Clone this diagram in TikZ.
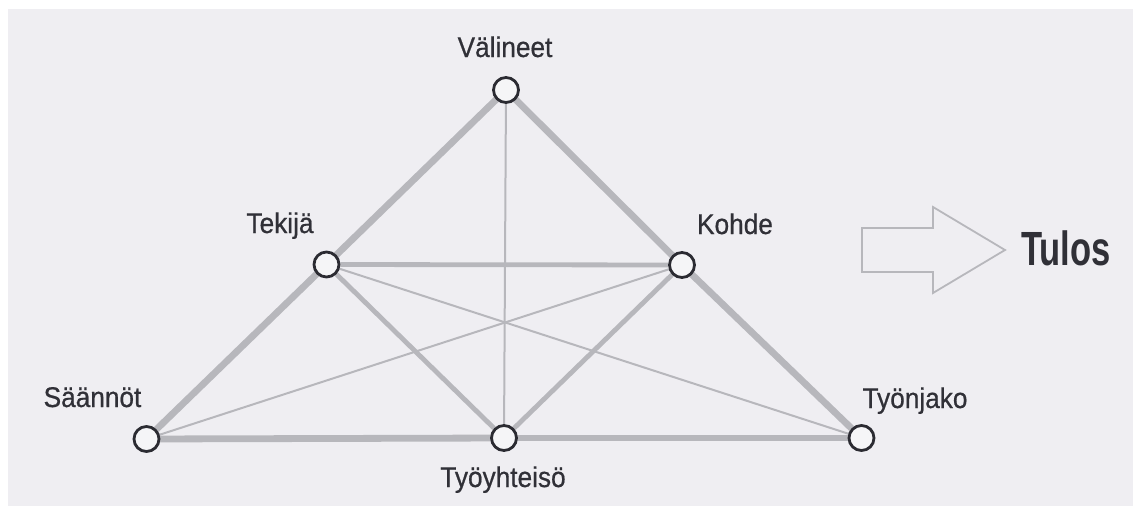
\documentclass[tikz,border=0pt]{standalone}
\usepackage{fontspec}
\usetikzlibrary{backgrounds}
\setmainfont{Liberation Sans}
\newfontfamily\labelfont{Liberation Sans}[FakeStretch=0.92,FakeBold=0.6]
\newfontfamily\tulosfont{Liberation Sans}[FakeStretch=0.72]
\definecolor{paper}{HTML}{EFEEF2}
\definecolor{edge}{HTML}{B7B7BC}
\definecolor{ink}{HTML}{303037}
\definecolor{ring}{HTML}{2B2B32}
\begin{document}
\begin{tikzpicture}[x=1pt,y=-1pt,
  vertex/.style={circle,draw=ring,line width=2.8pt,fill=paper!60!white,
    minimum size=25pt,inner sep=0pt},
  lbl/.style={anchor=base,text=ink,inner sep=0pt,
    font=\labelfont\fontsize{28.5}{28.5}\selectfont},
  outer/.style={draw=edge,line width=6.8pt},
  inner/.style={draw=edge,line width=4.8pt},
  thin/.style={draw=edge,line width=2pt},
  result/.style={draw=edge,line width=1.8pt,line join=miter}]
  \useasboundingbox (0,0) rectangle (1133,509);

  % vertices
  \node[vertex] (val) at (506,90) {};
  \node[vertex] (tek) at (326.5,264.5) {};
  \node[vertex] (koh) at (682,265) {};
  \node[vertex] (saa) at (146.5,439) {};
  \node[vertex] (tyo) at (504,438) {};
  \node[vertex] (tnj) at (861.5,438) {};

  % paper and connectors, kept behind the vertices
  \begin{scope}[on background layer]
    \fill[white] (0,0) rectangle (1133,509);
    \fill[paper] (8,9) rectangle (1133,506);
    \path[thin] (val) -- (tyo);
    \path[thin] (saa) -- (koh);
    \path[thin] (tek) -- (tnj);
    \path[inner] (tek) -- (koh);
    \path[inner] (tek) -- (tyo);
    \path[inner] (koh) -- (tyo);
    \path[outer] (val.center) -- (tek.center);
    \path[outer] (tek.center) -- (saa.center);
    \path[outer] (val.center) -- (koh.center);
    \path[outer] (koh.center) -- (tnj.center);
    \path[outer] (saa.center) -- (tyo.center);
    \path[outer] (tyo.center) -- (tnj.center);
  \end{scope}

  % labels
  \node[lbl] (lval) at (505,57) {Välineet};
  \node[lbl] (ltek) at (280,233) {Tekijä};
  \node[lbl] (lkoh) at (735,234) {Kohde};
  \node[lbl] (lsaa) at (92.5,407) {Säännöt};
  \node[lbl] (ltyo) at (503,487) {Työyhteisö};
  \node[lbl] (ltnj) at (915,408) {Työnjako};

  % outline arrow towards the outcome
  \draw[result] (862,228) -- (933,228) -- (933,207) -- (1005,250)
    -- (933,293) -- (933,272) -- (862,272) -- cycle;
  \node[anchor=base,text=ink,inner sep=0pt,
    font=\tulosfont\bfseries\fontsize{48}{48}\selectfont] (tulos) at (1066,265) {Tulos};
\end{tikzpicture}
\end{document}
